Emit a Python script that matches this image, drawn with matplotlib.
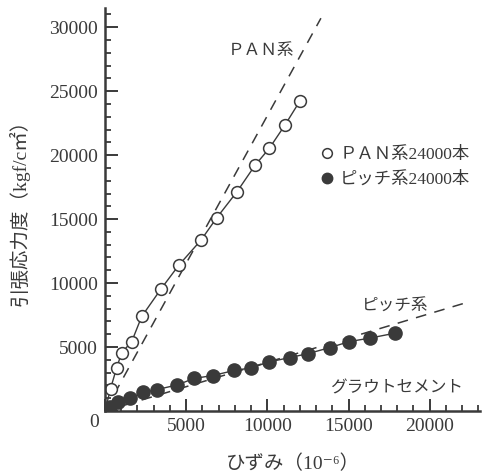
import matplotlib.pyplot as plt
from matplotlib.lines import Line2D
from matplotlib.ticker import MultipleLocator, FuncFormatter

INK = "#3a3a3a"
JP_FONT = ["Liberation Serif", "Noto Sans CJK JP", "DejaVu Serif"]

# PAN系 24000本 (open circles)
pan_strain = [340, 720, 1030, 1640, 2260, 3450, 4560, 5910, 6880, 8130, 9240, 10120, 11080, 12010]
pan_stress = [1750, 3390, 4570, 5410, 7390, 9540, 11420, 13350, 15100, 17140, 19200, 20530, 22340, 24240]

# ピッチ系 24000本 (filled circles)
pitch_strain = [300, 770, 1520, 2360, 3180, 4450, 5490, 6630, 7960, 8990, 10120, 11390,
                12520, 13860, 15060, 16320, 17890]
pitch_stress = [340, 680, 1000, 1450, 1670, 2040, 2550, 2770, 3170, 3370, 3840, 4180,
                4490, 4960, 5430, 5700, 6090]

# reference lines (dashed)
pan_ref_x = [0, 13300]
pan_ref_y = [0, 30700]
pitch_ref_x = [0, 22200]
pitch_ref_y = [0, 8450]

fig = plt.figure(figsize=(4.88, 4.75), dpi=100)
ax = fig.add_axes([0.2152, 0.1347, 0.7684, 0.8485])

dash = (0, (7, 5.5))
ax.plot(pan_ref_x, pan_ref_y, color=INK, lw=1.1, ls=dash)
ax.plot(pitch_ref_x, pitch_ref_y, color=INK, lw=1.1, ls=dash)

ax.plot([0] + pan_strain, [0] + pan_stress, color=INK, lw=1.0)
ax.plot(pan_strain, pan_stress, ls="none", marker="o", ms=8.5,
        mfc="white", mec=INK, mew=1.1)
ax.plot([0] + pitch_strain, [0] + pitch_stress, color=INK, lw=1.0)
ax.plot(pitch_strain, pitch_stress, ls="none", marker="o", ms=9.5,
        mfc=INK, mec=INK, mew=1.0)

ax.set_xlim(0, 23100)
ax.set_ylim(0, 31500)

for side in ("top", "right"):
    ax.spines[side].set_visible(False)
for side in ("left", "bottom"):
    ax.spines[side].set_color(INK)
    ax.spines[side].set_linewidth(1.8)

ax.xaxis.set_major_locator(MultipleLocator(5000))
ax.xaxis.set_minor_locator(MultipleLocator(1000))
ax.yaxis.set_major_locator(MultipleLocator(5000))
ax.yaxis.set_minor_locator(MultipleLocator(1000))
hide_zero = FuncFormatter(lambda v, p: "" if v == 0 else f"{v:.0f}")
ax.xaxis.set_major_formatter(hide_zero)
ax.yaxis.set_major_formatter(hide_zero)
ax.tick_params(which="major", direction="in", length=9, width=1.4, color=INK,
               labelcolor=INK, labelsize=14)
ax.tick_params(which="minor", direction="in", length=4.5, width=1.3, color=INK)
ax.tick_params(axis="y", pad=5)
ax.tick_params(axis="x", pad=5)
for lbl in ax.get_xticklabels() + ax.get_yticklabels():
    lbl.set_family("Liberation Serif")

ax.annotate("0", xy=(0, 0), xytext=(-7.5, -8), textcoords="offset points",
            ha="center", va="center", fontsize=14, family="Liberation Serif", color=INK)

ax.set_xlabel("ひずみ（10⁻⁶）", family=JP_FONT, fontsize=14, color=INK, labelpad=14)
ax.set_ylabel("引張応力度（kgf/c㎡）", family=JP_FONT, fontsize=14, color=INK)
ax.yaxis.set_label_coords(-0.2, 0.505)

ax.text(7570, 28130, "ＰＡＮ系", family=JP_FONT, fontsize=12, color=INK, va="center")
ax.text(15850, 8150, "ピッチ系", family=JP_FONT, fontsize=12, color=INK, va="center")
ax.text(13850, 1750, "グラウトセメント", family=JP_FONT, fontsize=12, color=INK, va="center")

handles = [
    Line2D([], [], ls="none", marker="o", ms=7, mfc="white", mec=INK, mew=1.1),
    Line2D([], [], ls="none", marker="o", ms=7.5, mfc=INK, mec=INK),
]
leg = ax.legend(handles, ["ＰＡＮ系24000本", "ピッチ系24000本"],
                loc="upper left", bbox_to_anchor=(0.579, 0.655), frameon=False,
                handlelength=0.6, handletextpad=0.4, labelspacing=0.5,
                borderaxespad=0, borderpad=0,
                prop={"family": JP_FONT, "size": 12.5})
for t in leg.get_texts():
    t.set_color(INK)

fig.savefig("out.png", dpi=100)
